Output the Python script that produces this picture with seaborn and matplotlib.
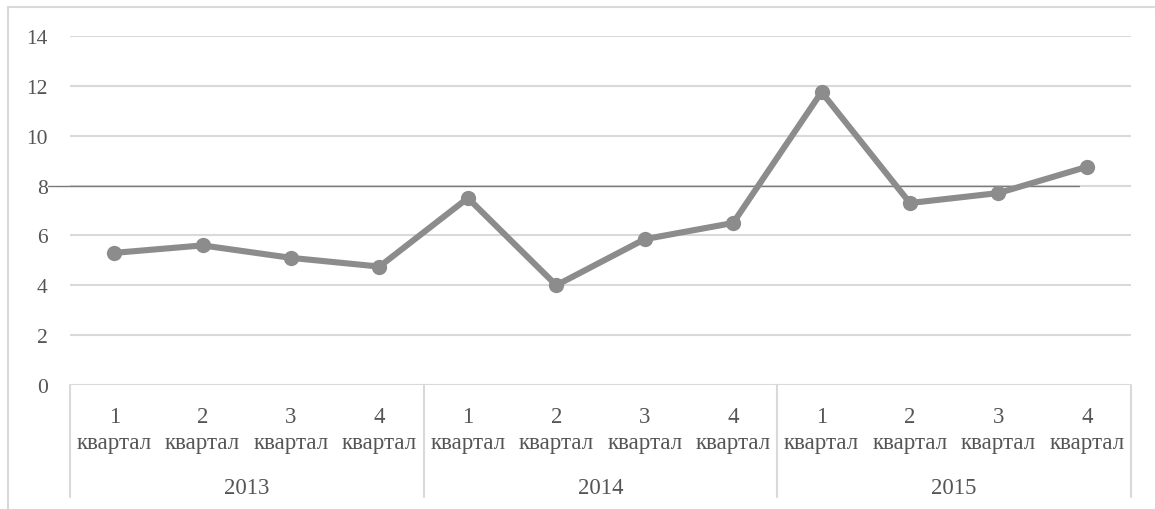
import matplotlib
matplotlib.use("Agg")
import matplotlib.pyplot as plt
import matplotlib.patches as mpatches
import seaborn as sns
import pandas as pd

# Quarterly values, 2013-2015
years = ["2013", "2014", "2015"]
quarters = ["1\nквартал", "2\nквартал", "3\nквартал", "4\nквартал"]
values = [5.3, 5.6, 5.1, 4.75, 7.5, 4.0, 5.85, 6.5, 11.75, 7.3, 7.7, 8.75]
threshold = 8
y_ticks = [0, 2, 4, 6, 8, 10, 12, 14]

sns.set_theme(style="white")
plt.rcParams["font.family"] = ["Liberation Serif", "DejaVu Serif"]

text_col = "#555555"
grid_col = "#d9d9d9"
line_col = "#8c8c8c"

df = pd.DataFrame({
    "pos": list(range(len(values))),
    "value": values,
})

fig = plt.figure(figsize=(11.55, 5.10), dpi=100)
ax = fig.add_axes([70 / 1155, 124 / 510, 1061 / 1155, 349 / 510])

sns.lineplot(data=df, x="pos", y="value", ax=ax, color=line_col,
             linewidth=4.4, marker="o", markersize=11,
             markeredgewidth=0, zorder=4)

ax.set_xlim(-0.5, len(values) - 0.5)
ax.set_ylim(y_ticks[0], y_ticks[-1])
ax.set_yticks(y_ticks)
ax.set_yticklabels([str(t) for t in y_ticks], color=text_col, fontsize=15.5)
ax.tick_params(axis="y", length=0, pad=16)
ax.set_xticks([])
ax.set_xlabel("")
ax.set_ylabel("")
for t in y_ticks:
    ax.axhline(t, color=grid_col, linewidth=1.5, zorder=1)
for s in ax.spines.values():
    s.set_visible(False)

# Reference level line
ax.axhline(threshold, xmin=-0.021, xmax=0.951, color="#7a7a7a",
           linewidth=1.0, zorder=3, clip_on=False)

# Two-level category axis: quarter labels and year labels
trans = ax.get_xaxis_transform()
for i in range(len(values)):
    ax.text(i, -0.128, quarters[i % 4], transform=trans, ha="center",
            va="center", fontsize=16.5, color=text_col, linespacing=1.3)
n_q = len(quarters)
for g, yr in enumerate(years):
    center = g * n_q + (n_q - 1) / 2
    ax.text(center, -0.295, yr, transform=trans, ha="center", va="center",
            fontsize=16.5, color=text_col)
for g in range(len(years) + 1):
    xb = g * n_q - 0.5
    ax.plot([xb, xb], [0, -0.321], transform=trans, color=grid_col,
            linewidth=1.5, clip_on=False, zorder=1)

# Chart frame
fig.patches.append(mpatches.Rectangle((8 / 1155, -0.1), 1.2, 1.1 - 8 / 510,
                                      transform=fig.transFigure, fill=False,
                                      edgecolor=grid_col, linewidth=1.5))

fig.savefig("out.png", dpi=100, facecolor="white")
